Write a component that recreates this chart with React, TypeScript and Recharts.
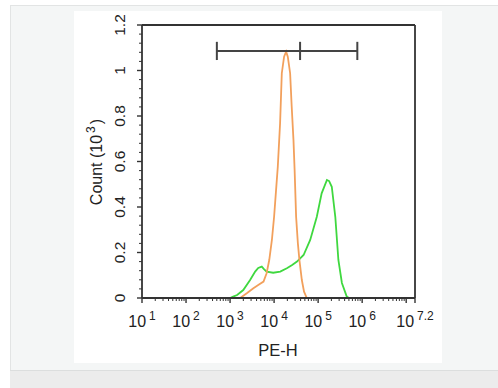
import React from 'react';
import { LineChart, Line, XAxis, YAxis, ReferenceLine } from 'recharts';

// log10(PE-H) positions and counts (x10^3)
const greenX = [3.0, 3.07, 3.16, 3.3, 3.455, 3.57, 3.64, 3.72, 3.77, 3.83, 3.98, 4.14, 4.29, 4.41, 4.52, 4.67, 4.82, 4.97, 5.08, 5.2, 5.25, 5.31, 5.39, 5.46, 5.54, 5.65, 5.7];
const greenY = [0, 0.006, 0.013, 0.035, 0.079, 0.116, 0.132, 0.138, 0.127, 0.116, 0.111, 0.116, 0.131, 0.145, 0.16, 0.189, 0.255, 0.357, 0.46, 0.519, 0.514, 0.489, 0.357, 0.167, 0.066, 0.006, 0];

const orangeX = [3.23, 3.38, 3.53, 3.64, 3.76, 3.83, 3.89, 3.95, 4.0, 4.045, 4.084, 4.136, 4.175, 4.227, 4.273, 4.311, 4.364, 4.4, 4.44, 4.466, 4.5, 4.54, 4.575, 4.63, 4.68, 4.74, 4.77];
const orangeY = [0, 0.021, 0.043, 0.057, 0.072, 0.109, 0.167, 0.255, 0.357, 0.475, 0.577, 0.768, 0.988, 1.061, 1.083, 1.061, 0.988, 0.841, 0.695, 0.563, 0.357, 0.24, 0.167, 0.079, 0.028, 0.001, 0];

const xMajorTicks = [1, 2, 3, 4, 5, 6, 7, 7.2];
const xLabelTicks = [1, 2, 3, 4, 5, 6, 7.2];
const xMinorTicks = [1, 2, 3, 4, 5, 6].flatMap((d) => [2, 3, 4, 5, 6, 7, 8, 9].map((k) => d + Math.log10(k)));
const yMajorTicks = [0, 0.2, 0.4, 0.6, 0.8, 1, 1.2];
const yMinorTicks = [0.04, 0.08, 0.12, 0.16, 0.24, 0.28, 0.32, 0.36, 0.44, 0.48, 0.52, 0.56, 0.64, 0.68, 0.72, 0.76, 0.84, 0.88, 0.92, 0.96, 1.04, 1.08, 1.12, 1.16];

const xAllTicks = [...xMajorTicks, ...xMinorTicks].sort((a, b) => a - b);
const yAllTicks = [...yMajorTicks, ...yMinorTicks].sort((a, b) => a - b);

const gateX = [2.7, 4.59, 5.89];
const gateY = 1.086;
const gateCap = 0.04;

const greenData = greenX.map((x, i) => ({ x, y: greenY[i] }));
const orangeData = orangeX.map((x, i) => ({ x, y: orangeY[i] }));

const AXIS = '#333';
const TXT = '#222';
const FONT = '"Liberation Sans", Arial, sans-serif';

const isIn = (arr: number[], v: number) => arr.some((a) => Math.abs(a - v) < 1e-6);

const XTick = (props: any) => {
  const { x, y, payload } = props;
  const v = payload.value;
  const major = isIn(xMajorTicks, v);
  return (
    <g>
      <line x1={x} x2={x} y1={y} y2={y + (major ? 5 : 3)} stroke={AXIS} strokeWidth={major ? 1.4 : 1} />
      {isIn(xLabelTicks, v) && (
        <text x={x} y={y + 29} textAnchor="middle" fontSize={16} fill={TXT} fontFamily={FONT}>
          <tspan>10</tspan>
          <tspan dx={3} dy={-7} fontSize={12}>{String(v)}</tspan>
        </text>
      )}
    </g>
  );
};

const YTick = (props: any) => {
  const { x, y, payload } = props;
  const v = payload.value;
  const major = isIn(yMajorTicks, v);
  const tx = x - 17;
  return (
    <g>
      <line x1={x} x2={x - (major ? 5 : 3)} y1={y} y2={y} stroke={AXIS} strokeWidth={major ? 1.4 : 1} />
      {major && (
        <text x={tx} y={y} transform={`rotate(-90, ${tx}, ${y})`} textAnchor="middle" fontSize={15.5} fill={TXT} fontFamily={FONT}>
          {String(v)}
        </text>
      )}
    </g>
  );
};

export default function App() {
  return (
    <div style={{ position: 'absolute', left: 0, top: 0, width: 498, height: 388, background: '#fff', overflow: 'hidden' }}>
      <div style={{ position: 'absolute', left: 10, top: 5, width: 488, height: 365, background: '#f4f6f6', borderTop: '1px solid #e2e4e4', borderLeft: '1px solid #e2e4e4', boxSizing: 'border-box' }} />
      <div style={{ position: 'absolute', left: 74, top: 11, width: 368, height: 352, background: '#fff' }} />
      <div style={{ position: 'absolute', left: 10, top: 370, width: 488, height: 18, background: '#ececec', borderTop: '1px solid #dcdede', boxSizing: 'border-box' }} />
      <div style={{ position: 'absolute', left: 0, top: 0 }}>
        <LineChart width={498} height={388} margin={{ top: 25, right: 83, bottom: 89, left: 141 }} style={{ fontFamily: FONT }}>
          <XAxis
            type="number"
            dataKey="x"
            domain={[1, 7.2]}
            ticks={xAllTicks}
            interval={0}
            allowDataOverflow
            height={1}
            tickSize={0}
            tickMargin={0}
            tick={XTick}
            axisLine={{ stroke: AXIS, strokeWidth: 1.8 }}
            tickLine={false}
            label={{
              content: () => (
                <text x={278} y={356} textAnchor="middle" fontSize={16.5} fill={TXT} fontFamily={FONT}>PE-H</text>
              ),
            }}
          />
          <YAxis
            type="number"
            domain={[0, 1.2]}
            ticks={yAllTicks}
            interval={0}
            allowDataOverflow
            width={1}
            tickSize={0}
            tickMargin={0}
            tick={YTick}
            axisLine={{ stroke: AXIS, strokeWidth: 1.8 }}
            tickLine={false}
            label={{
              content: () => (
                <text x={102} y={162} transform="rotate(-90, 102, 162)" textAnchor="middle" fontSize={16} fill={TXT} fontFamily={FONT}>
                  <tspan>Count  (10</tspan>
                  <tspan dx={2} dy={-7} fontSize={12}>3</tspan>
                  <tspan dx={2} dy={7}>)</tspan>
                </text>
              ),
            }}
          />
          <ReferenceLine y={1.2} stroke={AXIS} strokeWidth={1.8} />
          <ReferenceLine x={7.2} stroke={AXIS} strokeWidth={1.8} />
          <Line data={greenData} dataKey="y" type="linear" stroke="#3fd83f" strokeWidth={1.8} dot={false} isAnimationActive={false} />
          <Line data={orangeData} dataKey="y" type="linear" stroke="#f2a05c" strokeWidth={1.8} dot={false} isAnimationActive={false} />
          <ReferenceLine segment={[{ x: gateX[0], y: gateY }, { x: gateX[2], y: gateY }]} stroke="#444" strokeWidth={2} />
          {gateX.map((gx) => (
            <ReferenceLine key={gx} segment={[{ x: gx, y: gateY - gateCap }, { x: gx, y: gateY + gateCap }]} stroke="#444" strokeWidth={2} />
          ))}
        </LineChart>
      </div>
    </div>
  );
}
